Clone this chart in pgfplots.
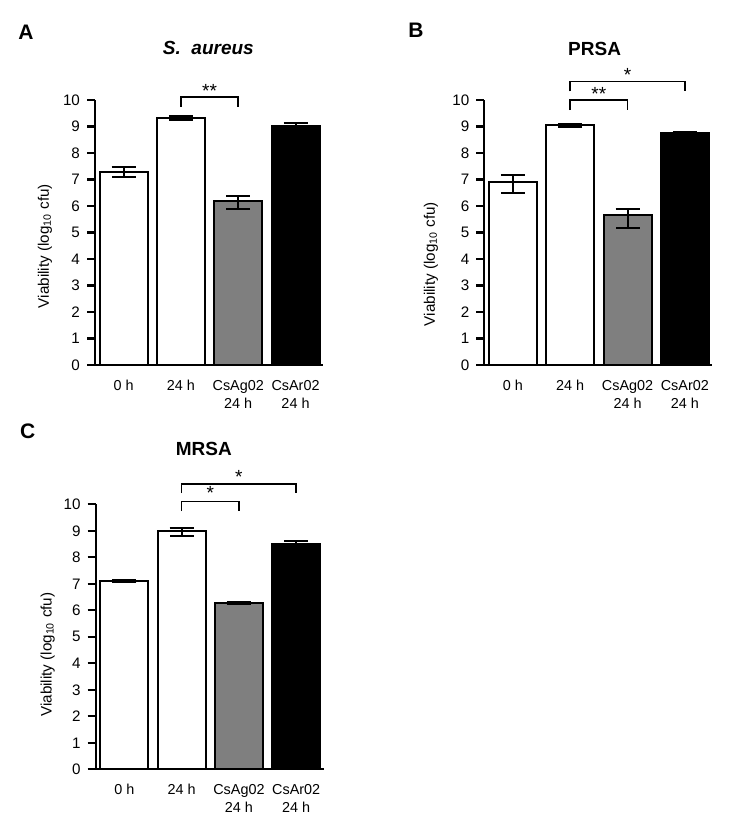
\documentclass[border=0pt]{standalone}
\usepackage{pgfplots}
\pgfplotsset{compat=1.18}
\usepackage{fontspec}
\setmainfont{Liberation Sans}

\definecolor{bargray}{HTML}{7F7F7F}

\pgfplotsset{
  vbar/.style={
    scale only axis, width=114pt, height=132.5pt,
    xmin=-0.5, xmax=3.48, ymin=0, ymax=10,
    axis x line=bottom, axis y line=left,
    axis line style={-, line width=1.1pt},
    clip=false,
    ytick={0,1,...,10},
    xtick={0,1,2,3},
    xticklabels={0 h, 24 h, {CsAg02\\24 h}, {CsAr02\\24 h}},
    xticklabel style={align=center, font=\fontsize{7.2}{9}\selectfont},
    yticklabel style={font=\fontsize{7.6}{9}\selectfont},
    /pgf/number format/assume math mode=true,
    xtick style={draw=none},
    ytick style={line width=1.1pt, black},
    tick align=outside,
    major tick length=4pt,
    ylabel={Viability (log\textsubscript{10} cfu)},
    ylabel style={font=\fontsize{7.6}{9}\selectfont, anchor=center, rotate=0},
    every axis plot/.append style={
      ybar, bar width=24pt, /pgf/bar shift=0pt, draw=black, line width=1pt,
      error bars/y dir=both, error bars/y explicit,
      error bars/error bar style={line width=1pt, black},
      error bars/error mark options={black, rotate=90, mark size=6pt, line width=1pt}
    },
  },
}
\tikzset{
  brk/.style={line width=0.8pt, black},
  star/.style={font=\fontsize{9.5}{10}\selectfont},
}

\begin{document}
\begin{tikzpicture}
\useasboundingbox (0,0) rectangle (376.5pt,-409pt);

% ---------------- Panel A ----------------
\begin{axis}[vbar, at={(47.5pt,-182.5pt)}, anchor=south west,
  ylabel style={at={(axis description cs:-0.219,0.449)}}]
\addplot[fill=white] coordinates {(0,7.28) += (0,0.19) -= (0,0.19)};
\addplot[fill=white] coordinates {(1,9.33) += (0,0.08) -= (0,0.10)};
\addplot[fill=bargray] coordinates {(2,6.20) += (0,0.18) -= (0,0.30)};
\addplot[fill=black] coordinates {(3,9.03) += (0,0.10) -= (0,0.10)};
\draw[brk] (axis cs:1,9.74) -- (axis cs:1,10.11) -- (axis cs:2,10.11) -- (axis cs:2,9.74);
\node[star] at (axis cs:1.5,10.33) {**};
\end{axis}

% ---------------- Panel B ----------------
\begin{axis}[vbar, at={(242.15pt,-182.5pt)}, anchor=south west,
  ylabel style={at={(axis description cs:-0.234,0.381)}}]
\addplot[fill=white] coordinates {(0,6.92) += (0,0.24) -= (0,0.43)};
\addplot[fill=white] coordinates {(1,9.04) += (0,0.05) -= (0,0.05)};
\addplot[fill=bargray] coordinates {(2,5.65) += (0,0.24) -= (0,0.49)};
\addplot[fill=black] coordinates {(3,8.75) += (0,0.03) -= (0,0.03)};
\draw[brk] (axis cs:1,9.62) -- (axis cs:1,9.99) -- (axis cs:2,9.99) -- (axis cs:2,9.62);
\node[star] at (axis cs:1.5,10.23) {**};
\draw[brk] (axis cs:1,10.33) -- (axis cs:1,10.70) -- (axis cs:3,10.70) -- (axis cs:3,10.33);
\node[star] at (axis cs:2,10.95) {*};
\end{axis}

% ---------------- Panel C ----------------
\begin{axis}[vbar, at={(47.85pt,-384.65pt)}, anchor=south west,
  ylabel style={at={(axis description cs:-0.21,0.433)}}]
\addplot[fill=white] coordinates {(0,7.10) += (0,0.05) -= (0,0.05)};
\addplot[fill=white] coordinates {(1,8.98) += (0,0.11) -= (0,0.17)};
\addplot[fill=bargray] coordinates {(2,6.27) += (0,0.05) -= (0,0.05)};
\addplot[fill=black] coordinates {(3,8.50) += (0,0.10) -= (0,0.10)};
\draw[brk] (axis cs:1,9.74) -- (axis cs:1,10.10) -- (axis cs:2,10.10) -- (axis cs:2,9.74);
\node[star] at (axis cs:1.5,10.41) {*};
\draw[brk] (axis cs:1,10.42) -- (axis cs:1,10.76) -- (axis cs:3,10.76) -- (axis cs:3,10.42);
\node[star] at (axis cs:2,11.04) {*};
\end{axis}

% ---------------- Labels and titles ----------------
\node[font=\bfseries\fontsize{10.5}{12}\selectfont] at (13pt,-16pt) {A};
\node[font=\bfseries\itshape\fontsize{9.5}{11}\selectfont] at (104.2pt,-24pt) {S.\ \ aureus};
\node[font=\bfseries\fontsize{10.5}{12}\selectfont] at (208pt,-15pt) {B};
\node[font=\bfseries\fontsize{9.5}{11}\selectfont] at (297.3pt,-24.5pt) {PRSA};
\node[font=\bfseries\fontsize{10.5}{12}\selectfont] at (13.8pt,-215.8pt) {C};
\node[font=\bfseries\fontsize{9.5}{11}\selectfont] at (101.9pt,-224.5pt) {MRSA};
\end{tikzpicture}
\end{document}
